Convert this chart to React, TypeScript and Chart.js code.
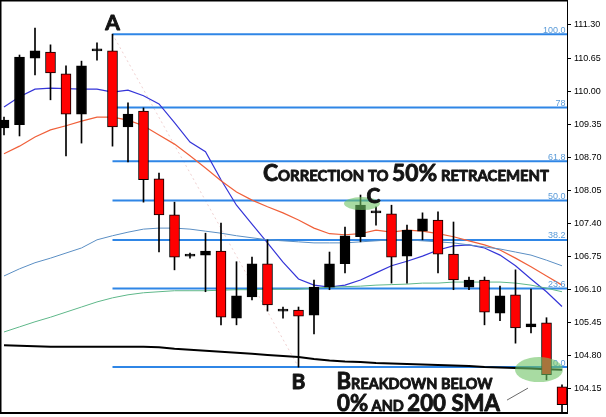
import React, { useEffect, useRef } from 'react';
import { Chart, registerables } from 'chart.js';
Chart.register(...registerables);

// ---- candle data (index 0..36) ----
const opens = [109.28, 109.34, 110.65, 110.77, 110.34, 109.55, 110.79, 110.79, 109.30, 109.61, 108.28, 107.57, 106.76, 106.78, 106.86, 105.54, 105.96, 106.61, 105.68, 105.70, 105.60, 106.15, 106.61, 107.14, 107.61, 107.59, 106.76, 107.25, 107.47, 106.80, 106.15, 106.29, 105.64, 106.00, 105.37, 105.45, 104.19];
const highs = [109.49, 110.71, 111.24, 110.91, 110.50, 110.59, 110.95, 111.12, 109.77, 109.67, 108.39, 107.82, 106.82, 107.21, 107.41, 106.65, 106.74, 107.08, 105.76, 105.76, 106.29, 106.84, 107.33, 107.96, 107.73, 107.76, 107.37, 107.61, 107.63, 107.43, 106.35, 106.35, 106.17, 106.49, 106.11, 105.55, 104.23];
const lows = [109.14, 109.12, 110.32, 109.83, 108.73, 108.98, 110.61, 108.92, 108.61, 107.82, 106.84, 106.49, 106.72, 106.06, 105.41, 105.41, 105.90, 105.68, 105.54, 104.58, 105.23, 106.10, 106.43, 107.04, 107.37, 106.23, 106.23, 107.08, 106.43, 106.10, 106.10, 105.41, 105.49, 105.05, 105.25, 104.33, 103.70];
const closes = [109.43, 110.67, 110.79, 110.36, 109.55, 110.50, 110.79, 109.30, 109.55, 108.26, 107.57, 106.74, 106.76, 106.86, 105.56, 105.98, 106.61, 105.80, 105.68, 105.58, 106.15, 106.61, 107.16, 107.76, 107.61, 106.74, 107.27, 107.49, 106.80, 106.29, 106.29, 105.66, 105.98, 105.35, 105.43, 104.43, 103.84];

// ---- moving averages ----
const maFast = [109.69, 109.89, 110.04, 110.06, 110.05, 110.04, 110.04, 109.98, 110.02, 109.91, 109.75, 109.38, 109.00, 108.81, 108.26, 107.76, 107.39, 107.02, 106.64, 106.31, 106.19, 106.15, 106.19, 106.29, 106.43, 106.57, 106.66, 106.76, 106.88, 106.96, 106.98, 106.92, 106.78, 106.57, 106.31, 106.06, 105.77];
const maMid = [108.77, 108.92, 109.10, 109.24, 109.32, 109.41, 109.49, 109.49, 109.43, 109.32, 109.14, 108.96, 108.73, 108.49, 108.24, 108.02, 107.86, 107.73, 107.61, 107.47, 107.31, 107.20, 107.18, 107.20, 107.27, 107.23, 107.27, 107.25, 107.20, 107.14, 107.06, 106.98, 106.88, 106.72, 106.55, 106.37, 106.19];
const ma50 = [106.37, 106.51, 106.63, 106.72, 106.82, 106.92, 107.08, 107.16, 107.23, 107.29, 107.31, 107.31, 107.29, 107.25, 107.21, 107.16, 107.12, 107.08, 107.06, 107.04, 107.02, 107.02, 107.02, 107.04, 107.06, 107.08, 107.08, 107.06, 107.04, 107.02, 106.98, 106.94, 106.90, 106.84, 106.78, 106.68, 106.57];
const ma100 = [105.27, 105.37, 105.47, 105.56, 105.66, 105.76, 105.86, 105.94, 106.00, 106.04, 106.06, 106.08, 106.08, 106.08, 106.09, 106.10, 106.10, 106.11, 106.11, 106.11, 106.13, 106.15, 106.16, 106.17, 106.19, 106.20, 106.21, 106.23, 106.23, 106.25, 106.25, 106.25, 106.25, 106.23, 106.19, 106.13, 106.06];
const ma200 = [105.01, 105.00, 104.99, 104.98, 104.98, 104.98, 104.98, 104.98, 104.98, 104.98, 104.97, 104.94, 104.92, 104.90, 104.88, 104.86, 104.84, 104.82, 104.80, 104.78, 104.74, 104.71, 104.69, 104.68, 104.66, 104.65, 104.64, 104.63, 104.62, 104.61, 104.60, 104.58, 104.57, 104.56, 104.55, 104.54, 104.53];

// ---- fibonacci retracement (A = index 7 high, B = index 19 low) ----
const idxA = 7;
const idxB = 19;
const idxC = 23;
const fibRatios = [1, 0.78, 0.618, 0.5, 0.382, 0.236, 0];
const fibLabels = ['100.0', '78', '61.8', '50.0', '38.2', '23.6', '0.0'];

// ---- axis ----
const yTicks = [104.15, 104.80, 105.45, 106.10, 106.75, 107.40, 108.05, 108.70, 109.35, 110.00, 110.65, 111.30];
const yMin = 103.698;
const yMax = 111.771;
const xMin = -0.1935;
const xMax = 36.3226;

const FIB_COLOR = '#2f86e6';
const FIB_LABEL_COLOR = '#5b9bd8';
const TEXT_COLOR = '#141414';
const TEXT_FONT = 'Lato, "Open Sans", sans-serif';

type Seg = [string, number];

function drawSegs(ctx: CanvasRenderingContext2D, segs: Seg[], x: number, y: number, target: number) {
  let total = 0;
  for (const [t, s] of segs) {
    ctx.font = `bold ${s}px ${TEXT_FONT}`;
    total += ctx.measureText(t).width;
  }
  const k = target / total;
  ctx.save();
  ctx.translate(x, y);
  ctx.scale(k, 1);
  let cx = 0;
  ctx.lineWidth = 0.9;
  ctx.strokeStyle = TEXT_COLOR;
  ctx.lineJoin = 'round';
  for (const [t, s] of segs) {
    ctx.font = `bold ${s}px ${TEXT_FONT}`;
    ctx.fillText(t, cx, 0);
    ctx.strokeText(t, cx, 0);
    cx += ctx.measureText(t).width;
  }
  ctx.restore();
}

export default function App() {
  const ref = useRef<HTMLCanvasElement>(null);
  useEffect(() => {
    document.body.style.margin = '0';
    const canvas = ref.current!;
    const fibHigh = highs[idxA];
    const fibLow = lows[idxB];
    const fibLevels = fibRatios.map((r) => fibLow + r * (fibHigh - fibLow));

    const bodyColors = opens.map((o, i) => (closes[i] < o ? '#ff0000' : '#000000'));

    const lineDs = (data: number[], color: string, width: number, order: number) => ({
      type: 'line' as const,
      data: data.map((v, i) => ({ x: i, y: v })),
      borderColor: color,
      borderWidth: width,
      pointRadius: 0,
      tension: 0,
      order,
    });

    const annot = {
      id: 'annot',
      afterDatasetsDraw(chart: any) {
        const { ctx, scales, chartArea } = chart;
        const X = (v: number) => scales.x.getPixelForValue(v);
        const Y = (v: number) => scales.y.getPixelForValue(v);
        ctx.save();
        // fib labels
        ctx.font = '9px "Liberation Sans", Arial, sans-serif';
        ctx.fillStyle = FIB_LABEL_COLOR;
        ctx.textAlign = 'right';
        ctx.textBaseline = 'alphabetic';
        fibLevels.forEach((L, k) => ctx.fillText(fibLabels[k], chartArea.right - 1.5, Y(L) - 1.5));

        // ellipses
        ctx.fillStyle = 'rgba(110,195,100,0.6)';
        const e1x = X(idxC) + 1.5, e1y = Y(fibLevels[3]) + 3;
        ctx.beginPath();
        ctx.ellipse(e1x, e1y, 18, 6.5, 0, 0, Math.PI * 2);
        ctx.fill();
        const e2x = X(35) - 7.5, e2y = Y(fibLevels[6]) + 2.5;
        ctx.beginPath();
        ctx.ellipse(e2x, e2y, 24, 12.5, 0, 0, Math.PI * 2);
        ctx.fill();

        // connector
        ctx.strokeStyle = '#6a6a6a';
        ctx.lineWidth = 1;
        ctx.beginPath();
        ctx.moveTo(e2x - 32, e2y + 30.5);
        ctx.lineTo(e2x - 11, e2y + 18.5);
        ctx.stroke();

        // point letters
        ctx.fillStyle = TEXT_COLOR;
        ctx.strokeStyle = TEXT_COLOR;
        ctx.lineWidth = 0.9;
        ctx.lineJoin = 'round';
        ctx.textAlign = 'center';
        ctx.font = `bold 21px ${TEXT_FONT}`;
        const letters: [string, number, number][] = [
          ['A', X(idxA), Y(highs[idxA]) - 4],
          ['B', X(idxB), Y(lows[idxB]) + 22],
          ['C', X(idxC) + 13, Y(highs[idxC]) + 8],
        ];
        letters.forEach(([t, lx, ly]) => {
          ctx.fillText(t, lx, ly);
          ctx.strokeText(t, lx, ly);
        });

        ctx.textAlign = 'left';
        drawSegs(ctx, [['C', 23], ['ORRECTION TO ', 15], ['50%', 23], [' RETRACEMENT', 15]], X(16) + 11, Y(fibLevels[2]) + 20, 286);
        drawSegs(ctx, [['B', 23], ['REAKDOWN BELOW', 15]], X(21) + 7, Y(fibLevels[6]) + 22, 156);
        drawSegs(ctx, [['0%', 23], [' AND ', 15], ['200 SMA', 23]], X(21) + 7.5, Y(fibLevels[6]) + 44, 163);
        ctx.restore();
      },
      afterDraw(chart: any) {
        const { ctx, chartArea } = chart;
        ctx.save();
        ctx.fillStyle = '#000';
        ctx.fillRect(0, 0, chartArea.right + 1, 1.5);
        ctx.fillRect(0, 0, 1.5, chartArea.bottom + 2);
        ctx.fillRect(0, chartArea.bottom, chartArea.right + 1, 2);
        ctx.restore();
      },
    };

    const chart = new Chart(canvas, {
      type: 'bar',
      data: {
        datasets: [
          {
            type: 'bar',
            data: opens.map((o, i) => ({ x: i, y: [o, closes[i]] })) as any,
            backgroundColor: bodyColors,
            borderColor: '#000',
            borderWidth: 1,
            borderSkipped: false,
            barThickness: 10,
            minBarLength: 2,
            grouped: false,
            order: 0,
          } as any,
          {
            type: 'bar',
            data: lows.map((l, i) => ({ x: i, y: [l, highs[i]] })) as any,
            backgroundColor: '#000',
            borderWidth: 0,
            barThickness: 1,
            grouped: false,
            order: 1,
          } as any,
          ...fibLevels.map((L) => ({
            type: 'line' as const,
            data: [{ x: idxA, y: L }, { x: xMax, y: L }],
            borderColor: FIB_COLOR,
            borderWidth: 2,
            pointRadius: 0,
            order: 4,
          })),
          {
            type: 'line',
            data: [{ x: idxA, y: highs[idxA] }, { x: idxB, y: lows[idxB] }],
            borderColor: 'rgba(225,170,170,0.55)',
            borderWidth: 1,
            borderDash: [2, 3],
            pointRadius: 0,
            order: 5,
          } as any,
          lineDs(ma200, '#000000', 2, 3),
          lineDs(ma100, '#5fb88a', 1, 3),
          lineDs(ma50, '#5b8fc4', 1, 3),
          lineDs(maMid, '#f0603a', 1.2, 3),
          lineDs(maFast, '#3535d8', 1.2, 3),
        ] as any,
      },
      options: {
        responsive: false,
        animation: false,
        devicePixelRatio: 1,
        layout: { padding: { left: 1, top: 1, bottom: 5, right: 0 } },
        plugins: { legend: { display: false }, tooltip: { enabled: false } },
        scales: {
          x: {
            type: 'linear',
            min: xMin,
            max: xMax,
            offset: false,
            display: false,
          },
          y: {
            type: 'linear',
            position: 'right',
            min: yMin,
            max: yMax,
            beginAtZero: false,
            afterBuildTicks: (scale: any) => {
              scale.ticks = yTicks.map((v) => ({ value: v }));
            },
            afterFit: (scale: any) => {
              scale.width = 39;
              scale.paddingTop = 0;
              scale.paddingBottom = 0;
            },
            ticks: {
              autoSkip: false,
              padding: 3,
              color: '#000',
              font: { family: '"Liberation Sans", Arial, sans-serif', size: 9 },
              callback: (v: any) => Number(v).toFixed(2),
            },
            grid: { drawOnChartArea: false, drawTicks: true, tickLength: 4, color: '#000' },
            border: { display: true, color: '#000', width: 1 },
          },
        },
      } as any,
      plugins: [annot],
    });
    return () => chart.destroy();
  }, []);

  return (
    <div style={{ position: 'absolute', left: 0, top: 0, width: 606, height: 417, background: '#fff' }}>
      <canvas ref={ref} width={606} height={417} style={{ display: 'block', width: 606, height: 417 }} />
    </div>
  );
}
